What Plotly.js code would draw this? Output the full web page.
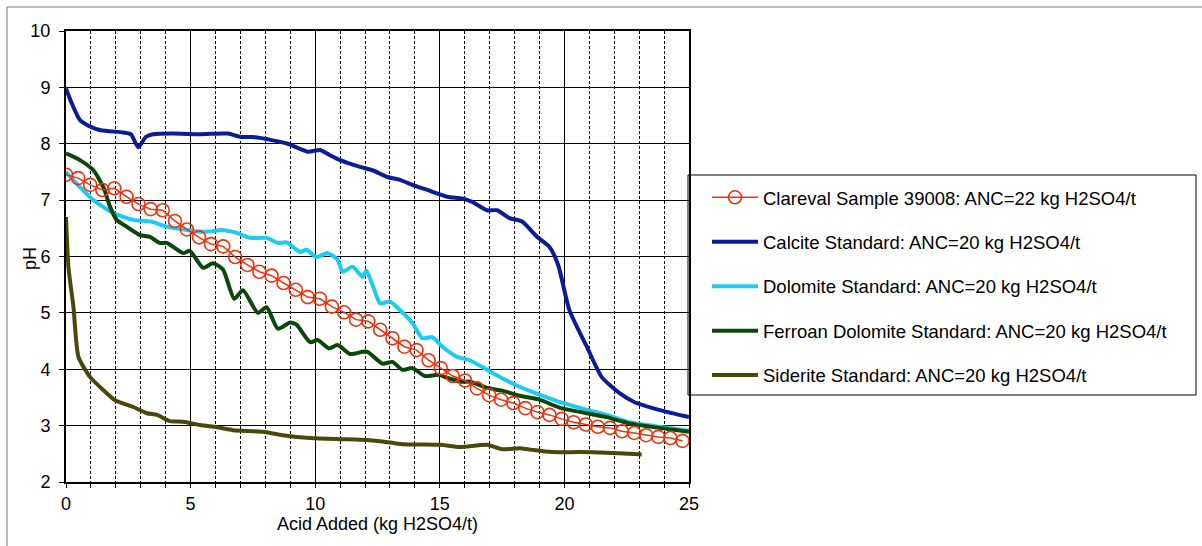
<!DOCTYPE html>
<html>
<head>
<meta charset="utf-8">
<script src="https://cdn.plot.ly/plotly-3.0.1.min.js"></script>
<style>
  html, body { margin: 0; padding: 0; background: #fff; }
  #chart { width: 1202px; height: 546px; }
</style>
</head>
<body>
<div id="chart"></div>
<script>
// Acid titration curves: pH against acid added (kg H2SO4/t)

const sampleX = [0, 0.49, 0.97, 1.46, 1.94, 2.43, 2.91, 3.4, 3.88, 4.37, 4.85, 5.34, 5.82, 6.31, 6.79,
  7.28, 7.76, 8.25, 8.73, 9.22, 9.7, 10.19, 10.67, 11.16, 11.64, 12.13, 12.61, 13.1, 13.58, 14.07,
  14.55, 15.04, 15.52, 16.01, 16.49, 16.98, 17.46, 17.95, 18.43, 18.92, 19.4, 19.89, 20.37, 20.86,
  21.34, 21.83, 22.31, 22.8, 23.28, 23.77, 24.25, 24.74];
const samplePH = [7.45, 7.39, 7.27, 7.18, 7.21, 7.06, 6.93, 6.84, 6.82, 6.63, 6.48, 6.34, 6.22, 6.18, 5.99,
  5.85, 5.73, 5.66, 5.53, 5.41, 5.28, 5.25, 5.11, 5.01, 4.88, 4.85, 4.70, 4.55, 4.40, 4.34,
  4.16, 4.02, 3.88, 3.80, 3.66, 3.54, 3.46, 3.40, 3.31, 3.24, 3.19, 3.12, 3.06, 3.02,
  2.98, 2.96, 2.90, 2.87, 2.83, 2.80, 2.78, 2.73];

const calciteX = [0, 0.2, 0.56, 1.0, 1.4, 2.3, 2.6, 2.9, 3.2, 3.5, 4.3, 5.4, 6.5, 7.0, 7.5, 8.3, 8.9,
  9.7, 10.2, 10.5, 11.0, 11.8, 12.3, 12.9, 13.4, 13.9, 14.5, 15.3, 15.9, 16.3, 16.9, 17.3, 17.8,
  18.3, 18.9, 19.4, 19.75, 20.2, 20.9, 21.5, 22.2, 22.8, 23.8, 25.0];
const calcitePH = [8.98, 8.75, 8.42, 8.3, 8.24, 8.2, 8.17, 7.94, 8.12, 8.17, 8.18, 8.17, 8.18, 8.12, 8.12,
  8.06, 8.0, 7.86, 7.89, 7.82, 7.71, 7.59, 7.53, 7.41, 7.36, 7.27, 7.18, 7.06, 7.03, 6.97, 6.82,
  6.82, 6.68, 6.62, 6.35, 6.17, 5.85, 5.05, 4.4, 3.86, 3.58, 3.42, 3.28, 3.15];

const dolomiteX = [0, 0.56, 1.1, 1.9, 2.7, 3.4, 4.05, 4.85, 5.4, 5.9, 6.2, 6.85, 7.4, 8.05, 8.5, 8.85,
  9.4, 9.65, 10.05, 10.5, 10.9, 11.1, 11.5, 11.9, 12.05, 12.3, 12.6, 13.0, 13.4, 13.9, 14.3, 14.7,
  15.1, 15.7, 16.2, 16.9, 17.5, 18.2, 19.0, 19.8, 20.9, 21.7, 22.6, 23.8, 25.0];
const dolomitePH = [7.5, 7.23, 7.0, 6.77, 6.65, 6.62, 6.53, 6.47, 6.44, 6.45, 6.47, 6.42, 6.33, 6.33,
  6.24, 6.25, 6.08, 6.12, 5.99, 6.06, 5.94, 5.73, 5.82, 5.64, 5.75, 5.5, 5.17, 5.2, 5.05, 4.82,
  4.55, 4.57, 4.4, 4.22, 4.16, 3.99, 3.84, 3.69, 3.55, 3.42, 3.28, 3.19, 3.06, 2.98, 2.91];

const ferroanX = [0, 0.56, 1.1, 1.5, 1.77, 2.03, 2.43, 2.97, 3.37, 3.77, 4.05, 4.7, 4.97, 5.5, 5.9, 6.3,
  6.75, 7.1, 7.7, 8.05, 8.5, 9.0, 9.25, 9.8, 10.1, 10.55, 10.9, 11.4, 11.9, 12.1, 12.7, 13.1, 13.5,
  13.9, 14.4, 14.95, 15.35, 15.85, 16.2, 16.9, 17.5, 18.2, 19.0, 19.8, 20.9, 21.7, 22.6, 23.8, 25.0];
const ferroanPH = [7.83, 7.71, 7.53, 7.23, 6.88, 6.65, 6.53, 6.38, 6.35, 6.24, 6.24, 6.06, 6.1, 5.8,
  5.88, 5.77, 5.25, 5.4, 5.0, 5.1, 4.72, 4.83, 4.79, 4.48, 4.52, 4.37, 4.43, 4.27, 4.31, 4.31, 4.1,
  4.13, 3.99, 4.02, 3.88, 3.9, 3.84, 3.78, 3.78, 3.67, 3.62, 3.53, 3.46, 3.32, 3.22, 3.15, 3.04,
  2.96, 2.89];

const sideriteX = [0, 0.1, 0.3, 0.5, 0.97, 1.5, 1.97, 2.7, 3.25, 3.65, 4.17, 4.7, 5.38, 6.05, 6.7, 7.9,
  8.7, 9.8, 11.0, 11.8, 12.7, 13.5, 15.0, 15.8, 16.9, 17.5, 18.2, 18.7, 19.5, 20.6, 21.7, 23.1];
const sideritePH = [6.7, 5.8, 5.1, 4.22, 3.86, 3.63, 3.45, 3.33, 3.22, 3.19, 3.08, 3.07, 3.01, 2.97,
  2.92, 2.89, 2.83, 2.78, 2.76, 2.75, 2.72, 2.67, 2.66, 2.62, 2.66, 2.58, 2.6, 2.57, 2.53, 2.53,
  2.52, 2.49];

const seriesNames = [
  'Clareval Sample 39008: ANC=22 kg H2SO4/t',
  'Calcite Standard: ANC=20 kg H2SO4/t',
  'Dolomite Standard: ANC=20 kg H2SO4/t',
  'Ferroan Dolomite Standard: ANC=20 kg H2SO4/t',
  'Siderite Standard: ANC=20 kg H2SO4/t'
];

const FONT = 'Liberation Sans, Arial, sans-serif';
const FS = 18;

function standard(x, y, name, color, group, rank) {
  return {
    x: x, y: y, name: name, type: 'scatter', mode: 'lines', legendgroup: group, legendrank: rank,
    line: { color: color, width: 4, shape: 'spline', smoothing: 0.6 }
  };
}

const traces = [
  standard(calciteX, calcitePH, seriesNames[1], '#0b1d96', 'b', 2),
  standard(dolomiteX, dolomitePH, seriesNames[2], '#1ccbf2', 'c', 3),
  standard(ferroanX, ferroanPH, seriesNames[3], '#0a470a', 'd', 4),
  standard(sideriteX, sideritePH, seriesNames[4], '#48480a', 'e', 5),
  {
    x: sampleX, y: samplePH, name: seriesNames[0], type: 'scatter', mode: 'lines+markers',
    legendgroup: 'a', legendrank: 1,
    line: { color: '#f2300c', width: 1.5 },
    marker: { symbol: 'circle-open', size: 13, color: '#f2300c', line: { width: 1.6, color: '#f2300c' } }
  }
];

const layout = {
  width: 1202, height: 546,
  margin: { l: 66, r: 513, t: 31, b: 64 },
  paper_bgcolor: '#ffffff', plot_bgcolor: '#ffffff',
  font: { family: FONT, size: FS, color: '#000' },
  showlegend: true,
  legend: {
    x: 1.0289, xanchor: 'left', y: 0.6723, yanchor: 'top',
    bgcolor: 'rgba(0,0,0,0)', borderwidth: 0,
    itemwidth: 46, traceorder: 'grouped', tracegroupgap: 17.4,
    font: { family: FONT, size: 18.5, color: '#000' }
  },
  xaxis: {
    range: [0, 25], dtick: 5, tick0: 0,
    showgrid: true, gridcolor: '#000', gridwidth: 1,
    showline: true, linecolor: '#000', linewidth: 2, mirror: true,
    ticks: 'outside', ticklen: 4, tickcolor: '#000', tickwidth: 1,
    ticklabelstandoff: 0,
    zeroline: false,
    tickfont: { family: FONT, size: FS },
    minor: { dtick: 1, showgrid: true, gridcolor: '#000', gridwidth: 1, griddash: '3px,2px',
             ticks: 'outside', ticklen: 4, tickcolor: '#000' },
    title: { text: 'Acid Added (kg H2SO4/t)', font: { family: FONT, size: FS }, standoff: 3 }
  },
  yaxis: {
    range: [2, 10], dtick: 1, tick0: 2,
    showgrid: true, gridcolor: '#000', gridwidth: 1,
    showline: true, linecolor: '#000', linewidth: 2, mirror: true,
    ticks: 'outside', ticklen: 5, tickcolor: '#000', tickwidth: 1,
    ticklabelstandoff: 5,
    zeroline: false,
    tickfont: { family: FONT, size: FS }
  },
  annotations: [
    // y-axis title
    { text: 'pH', xref: 'paper', yref: 'paper', x: -0.0578, y: 0.4967, textangle: -90,
      showarrow: false, xanchor: 'center', yanchor: 'middle', font: { family: FONT, size: FS } }
  ],
  shapes: [
    // legend frame
    { type: 'rect', xref: 'paper', yref: 'paper', x0: 0.9984, x1: 1.8138, y0: 0.1929, y1: 0.6807,
      line: { color: '#000', width: 1 }, fillcolor: 'rgba(0,0,0,0)', layer: 'above' },
    // outer chart frame (top and left edges)
    { type: 'line', xref: 'paper', yref: 'paper', x0: -0.0947, x1: 1.83, y0: 1.0532, y1: 1.0532,
      line: { color: '#7a7a7a', width: 1 } },
    { type: 'line', xref: 'paper', yref: 'paper', x0: -0.0947, x1: -0.0947, y0: 1.0532, y1: -0.16,
      line: { color: '#7a7a7a', width: 1 } }
  ]
};

Plotly.newPlot('chart', traces, layout, { staticPlot: true, displayModeBar: false });
</script>
</body>
</html>
